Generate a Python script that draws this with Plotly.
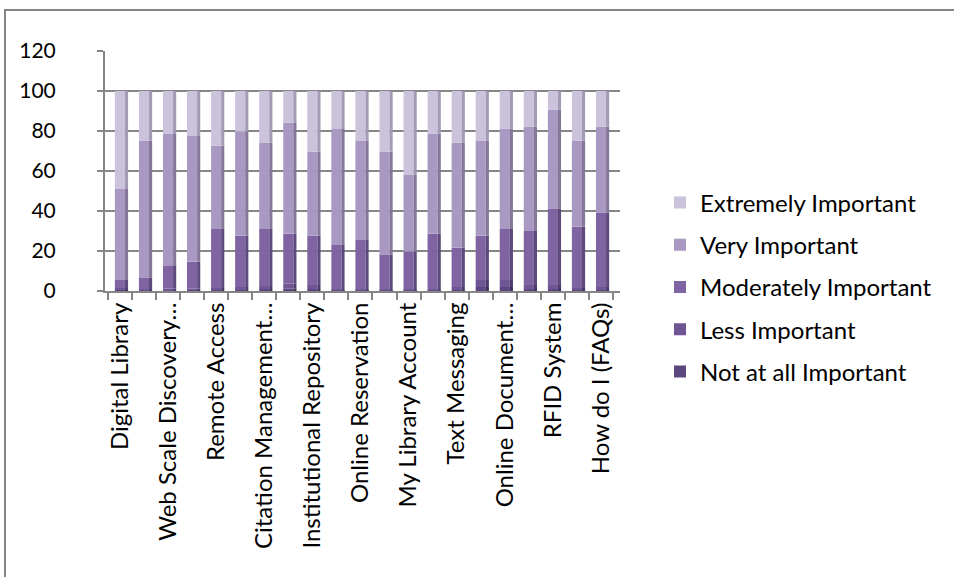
import numpy as np
import plotly.graph_objects as go

# Library services rated by respondents (percent of responses per rating)
services = [
    "Digital Library", "OPAC", "Web Scale Discovery…", "E-Resources",
    "Remote Access", "Federated Search", "Citation Management…", "Ask a Librarian",
    "Institutional Repository", "Online Renewal", "Online Reservation", "RSS Feeds",
    "My Library Account", "Library Blog", "Text Messaging", "Social Networking",
    "Online Document…", "Inter Library Loan", "RFID System", "Mobile Access",
    "How do I (FAQs)",
]

not_at_all = [0.5, 0.0, 0.0, 0.3, 0.5, 0.5, 1.0, 1.3, 1.0, 0.3, 0.3,
              0.3, 0.3, 0.3, 0.5, 2.0, 2.0, 1.0, 1.0, 0.5, 0.5]
less = [1.0, 1.0, 1.3, 1.0, 1.0, 1.5, 1.5, 2.5, 2.0, 0.7, 0.7,
        0.7, 0.7, 0.7, 1.5, 3.5, 3.5, 2.0, 2.0, 1.0, 1.5]
moderately = [4.0, 5.8, 11.2, 13.4, 29.5, 25.7, 28.5, 24.9, 24.7, 22.0, 24.5,
              17.3, 18.7, 27.7, 19.7, 22.2, 25.5, 27.0, 38.3, 30.7, 37.3]
very = [45.5, 68.4, 66.0, 62.8, 41.7, 52.0, 43.2, 55.6, 42.0, 58.0, 49.7,
        51.4, 38.3, 50.1, 52.6, 47.5, 50.3, 52.2, 49.5, 43.0, 42.9]
extremely = [49.0, 24.8, 21.5, 22.5, 27.3, 20.3, 25.8, 15.7, 30.3, 19.0, 24.8,
             30.3, 42.0, 21.2, 25.7, 24.8, 18.7, 17.8, 9.2, 24.8, 17.8]

series = [
    ("Not at all Important", not_at_all, "#5B4680", "#3F305A"),
    ("Less Important", less, "#6E5594", "#4F3D6E"),
    ("Moderately Important", moderately, "#8064A2", "#5F4A7C"),
    ("Very Important", very, "#A898C2", "#857799"),
    ("Extremely Important", extremely, "#CBC2DB", "#A39AB5"),
]

y_ticks = [0, 20, 40, 60, 80, 100, 120]
label_idx = list(range(0, len(services), 2))

x = np.arange(len(services))
stack = np.vstack([np.array(v, dtype=float) for _, v, _, _ in series])
bases = np.vstack([np.zeros(len(services)), np.cumsum(stack, axis=0)[:-1]])

FONT = "Lato"
FS = 24

fig = go.Figure()
for i, (name, vals, col, side) in enumerate(series):
    # front face
    fig.add_trace(go.Bar(
        x=x, y=vals, base=bases[i], name=name, marker_color=col,
        marker_line_width=0, width=0.42, legendgroup=name,
        legendrank=100 - i,
    ))
    # shaded side face for a raised look
    fig.add_trace(go.Bar(
        x=x, y=vals, base=bases[i], name=name, marker_color=side,
        marker_line_width=0, width=0.13, offset=0.21, showlegend=False,
        legendgroup=name, hoverinfo="skip",
    ))

L, R, T, B = 105, 334, 51, 286
W, H = 954 - L - R, 577 - T - B

fig.update_layout(
    width=954, height=577,
    margin=dict(l=L, r=R, t=T, b=B, pad=0),
    barmode="overlay",
    paper_bgcolor="white", plot_bgcolor="white",
    font=dict(family=FONT, size=FS, color="#000000"),
    showlegend=True,
    legend=dict(
        x=(660 - L) / W, xanchor="left",
        y=(291 - 287) / H, yanchor="middle",
        traceorder="grouped", tracegroupgap=8,
        font=dict(family=FONT, size=FS, color="#000000"),
        itemwidth=30, bgcolor="rgba(0,0,0,0)",
    ),
    xaxis=dict(
        range=[-0.62, 20.79], tickmode="array",
        tickvals=[int(i) for i in label_idx],
        ticktext=[services[i] for i in label_idx],
        tickangle=-90, ticks="", showgrid=False, zeroline=False,
        showline=True, linecolor="#868686", linewidth=2,
        minor=dict(tick0=-0.5, dtick=1, ticks="outside", ticklen=7,
                   tickcolor="#868686", tickwidth=2, showgrid=False),
        tickfont=dict(family=FONT, size=FS, color="#000000"),
    ),
    yaxis=dict(
        range=[0, 120], tickmode="array", tickvals=y_ticks,
        ticks="outside", ticklen=6, tickcolor="#868686", tickwidth=2,
        ticklabelstandoff=37,
        showgrid=True, gridcolor="#868686", gridwidth=2,
        zeroline=False, showline=True, linecolor="#868686", linewidth=2,
        tickfont=dict(family=FONT, size=21, color="#000000"),
    ),
    shapes=[dict(
        type="rect", xref="paper", yref="paper",
        x0=(5 - L) / W, x1=(970 - L) / W,
        y0=(291 - 600) / H, y1=(291 - 10) / H,
        line=dict(color="#868686", width=2), fillcolor="rgba(0,0,0,0)",
        layer="below",
    )],
)

fig.write_html("out.html")
